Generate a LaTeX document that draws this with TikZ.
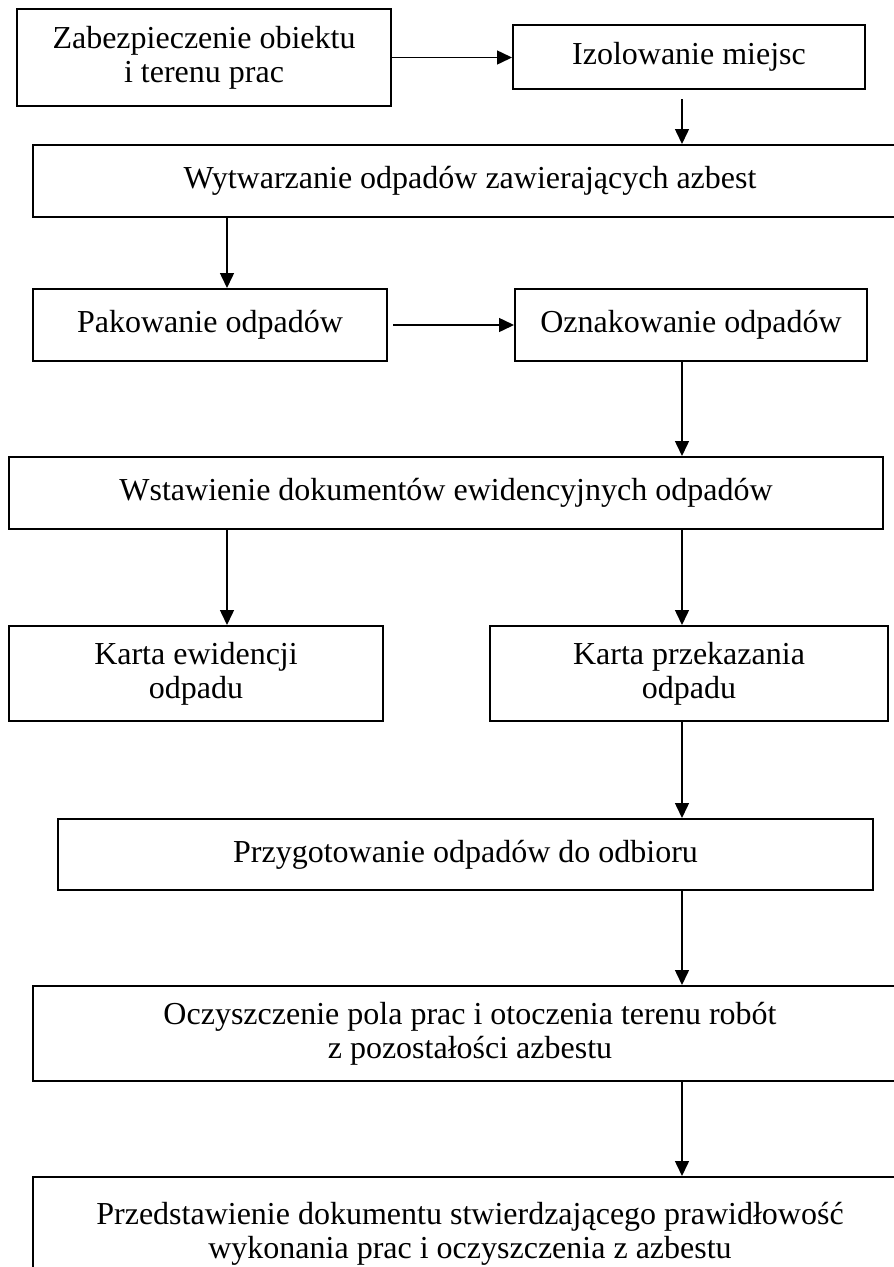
\documentclass[tikz,border=0pt]{standalone}
\usepackage{fontspec}
\setmainfont{Liberation Serif}
\usetikzlibrary{arrows.meta}
\begin{document}
\begin{tikzpicture}[x=1pt,y=-1pt,
  box/.style={draw, line width=2pt, inner sep=0pt, align=center, font=\fontsize{32}{34}\selectfont},
  conn/.style={line width=1.5pt, -{Triangle[length=15pt,width=14pt]}}]
\useasboundingbox (0,0) rectangle (894,1267);
\coordinate (L) at (227,0);
\coordinate (R) at (682,0);
\node[box, minimum width=374pt, minimum height=97pt] (zab) at (204,57.5) {Zabezpieczenie obiektu\\i terenu prac};
\node[box, minimum width=352pt, minimum height=64pt] (izol) at (689,57) {Izolowanie miejsc};
\node[box, minimum width=874pt, minimum height=72pt] (wyt) at (470,181) {Wytwarzanie odpadów zawierających azbest};
\node[box, minimum width=354pt, minimum height=72pt] (pak) at (210,325) {Pakowanie odpadów};
\node[box, minimum width=352pt, minimum height=72pt] (ozn) at (691,325) {Oznakowanie odpadów};
\node[box, minimum width=874pt, minimum height=72pt] (wst) at (446,493) {Wstawienie dokumentów ewidencyjnych odpadów};
\node[box, minimum width=374pt, minimum height=95pt] (kew) at (196,673.5) {Karta ewidencji\\odpadu};
\node[box, minimum width=398pt, minimum height=95pt] (kprz) at (689,673.5) {Karta przekazania\\odpadu};
\node[box, minimum width=815pt, minimum height=71pt] (przyg) at (465.5,854.5) {Przygotowanie odpadów do odbioru};
\node[box, minimum width=874pt, minimum height=95pt] (ocz) at (470,1033.5) {Oczyszczenie pola prac i otoczenia terenu robót\\z pozostałości azbestu};
\node[box, minimum width=874pt, minimum height=114pt] (prz) at (470,1234) {Przedstawienie dokumentu stwierdzającego prawidłowość\\wykonania prac i oczyszczenia z azbestu};
\draw[conn] (zab.east) -- (zab.east -| izol.west);
\draw[conn] ([yshift=-9pt]izol.south -| R) -- (wyt.north -| R);
\draw[conn] (wyt.south -| L) -- (pak.north -| L);
\draw[conn] ([xshift=5pt]pak.east) -- (pak.east -| ozn.west);
\draw[conn] (ozn.south -| R) -- (wst.north -| R);
\draw[conn] (wst.south -| L) -- (kew.north -| L);
\draw[conn] (wst.south -| R) -- (kprz.north -| R);
\draw[conn] (kprz.south -| R) -- (przyg.north -| R);
\draw[conn] (przyg.south -| R) -- (ocz.north -| R);
\draw[conn] (ocz.south -| R) -- (prz.north -| R);
\end{tikzpicture}
\end{document}
